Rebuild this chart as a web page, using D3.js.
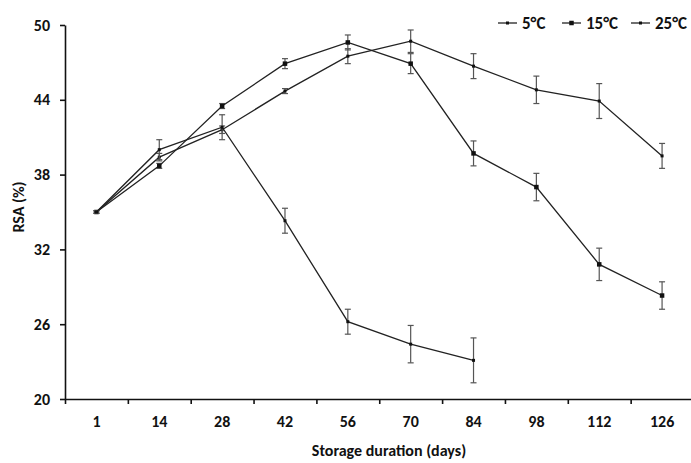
<!DOCTYPE html>
<html lang="en">
<head>
<meta charset="UTF-8">
<title>RSA storage</title>
<style>
    body { margin: 0; background: #fff; }
    svg { display: block; background: #fff; }
    text { font-family: Carlito, "Liberation Sans Narrow", Lato, sans-serif; font-weight: bold; fill: #111; }
</style>
</head>
<body>
<svg id="chart"></svg>
<script src="https://d3js.org/d3.v7.min.js"></script>
<script>
    // data
    var days = ["1", "14", "28", "42", "56", "70", "84", "98", "112", "126"];

    var rsa5 = [35.0, 39.4, 41.6, 44.7, 47.5, 48.7, 46.7, 44.8, 43.9, 39.5];
    var err5 = [0.1, 0.3, 0.3, 0.2, 0.6, 0.9, 1.0, 1.1, 1.4, 1.0];

    var rsa15 = [35.0, 38.7, 43.5, 46.9, 48.6, 46.9, 39.7, 37.0, 30.8, 28.3];
    var err15 = [0.1, 0.2, 0.2, 0.4, 0.6, 0.8, 1.0, 1.1, 1.3, 1.1];

    var rsa25 = [35.0, 40.0, 41.8, 34.3, 26.2, 24.4, 23.1];
    var err25 = [0.1, 0.8, 1.0, 1.0, 1.0, 1.5, 1.8];

    var yTicks = [20, 26, 32, 38, 44, 50];
    var seriesNames = ["5°C", "15°C", "25°C"];

    // plot area (the right edge runs past the picture, as in the original crop)
    var width = 691, height = 463;
    var plotLeft = 65, plotRight = 693.5, plotTop = 25, plotBottom = 399;

    var svg = d3.select("#chart").attr("width", width).attr("height", height);

    var x = d3.scaleBand().domain(days).range([plotLeft, plotRight]).padding(0);
    var xEdge = d3.scaleLinear().domain([0, days.length]).range([plotLeft, plotRight]);
    var y = d3.scaleLinear().domain([20, 50]).range([plotBottom, plotTop]);

    // y axis
    var gy = svg.append("g")
        .attr("transform", `translate(${plotLeft},0)`)
        .call(d3.axisLeft(y).tickValues(yTicks).tickSizeInner(5).tickSizeOuter(0).tickPadding(10));
    gy.selectAll("text").style("font-size", "16px");

    // x axis: ticks at category boundaries, labels at centres
    svg.append("g")
        .attr("transform", `translate(0,${plotBottom})`)
        .call(d3.axisBottom(xEdge).tickValues(d3.range(0, days.length + 1)).tickSize(5).tickSizeOuter(0).tickFormat(""));
    var gx = svg.append("g")
        .attr("transform", `translate(0,${plotBottom})`)
        .call(d3.axisBottom(x).tickSize(0).tickPadding(17));
    gx.select(".domain").remove();
    gx.selectAll("text").style("font-size", "16px");

    svg.selectAll(".domain, .tick line").attr("stroke", "#111").attr("stroke-width", 1.6);

    // axis titles
    svg.append("text")
        .attr("x", 389).attr("y", 456)
        .attr("text-anchor", "middle")
        .style("font-size", "16px")
        .text("Storage duration (days)");

    svg.append("text")
        .attr("transform", "translate(24,207) rotate(-90)")
        .attr("text-anchor", "middle")
        .style("font-size", "16px")
        .text("RSA (%)");

    var series = [
        { name: seriesNames[0], values: rsa5, errs: err5, size: 3 },
        { name: seriesNames[1], values: rsa15, errs: err15, size: 4.5 },
        { name: seriesNames[2], values: rsa25, errs: err25, size: 3 }
    ];

    var cx = d => x(d) + x.bandwidth() / 2;

    var line = d3.line()
        .x((d, i) => cx(days[i]))
        .y(d => y(d));

    series.forEach(function (s) {
        var pts = s.values.map((v, i) => ({ day: days[i], v: v, e: s.errs[i] }));
        var g = svg.append("g");

        // error bars
        var eb = g.selectAll(".eb").data(pts).enter().append("g")
            .attr("stroke", "#555").attr("stroke-width", 1.2);
        eb.append("line")
            .attr("x1", d => cx(d.day))
            .attr("x2", d => cx(d.day))
            .attr("y1", d => y(d.v - d.e))
            .attr("y2", d => y(d.v + d.e));
        eb.append("line")
            .attr("x1", d => cx(d.day) - 3)
            .attr("x2", d => cx(d.day) + 3)
            .attr("y1", d => y(d.v + d.e))
            .attr("y2", d => y(d.v + d.e));
        eb.append("line")
            .attr("x1", d => cx(d.day) - 3)
            .attr("x2", d => cx(d.day) + 3)
            .attr("y1", d => y(d.v - d.e))
            .attr("y2", d => y(d.v - d.e));

        g.append("path")
            .datum(s.values)
            .attr("fill", "none")
            .attr("stroke", "#222")
            .attr("stroke-width", 1.3)
            .attr("d", line);

        g.selectAll(".pt").data(pts).enter().append("rect")
            .attr("x", d => cx(d.day) - s.size / 2)
            .attr("y", d => y(d.v) - s.size / 2)
            .attr("width", s.size)
            .attr("height", s.size)
            .attr("fill", "#111");
    });

    // legend
    var legendX = [498, 562, 631];
    var legend = svg.append("g");
    series.forEach(function (s, i) {
        var lg = legend.append("g").attr("transform", `translate(${legendX[i]},23)`);
        lg.append("line").attr("x1", 0).attr("x2", 19).attr("y1", 0).attr("y2", 0)
            .attr("stroke", "#222").attr("stroke-width", 1.3);
        lg.append("rect").attr("x", 9.5 - s.size / 2).attr("y", -s.size / 2)
            .attr("width", s.size).attr("height", s.size).attr("fill", "#111");
        lg.append("text").attr("x", 24).attr("y", 5.5)
            .style("font-size", "17px")
            .text(s.name);
    });
</script>
</body>
</html>
